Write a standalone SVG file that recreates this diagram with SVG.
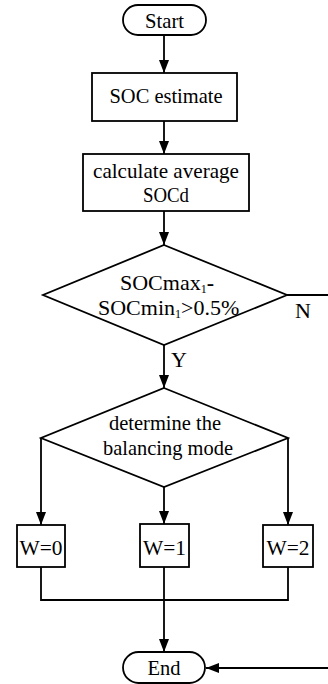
<svg xmlns="http://www.w3.org/2000/svg" width="328" height="684" viewBox="0 0 328 684">
<style>
.s{fill:#fff;stroke:#000;stroke-width:1.8}
.c{fill:none;stroke:#000;stroke-width:1.8}
text{font-family:"Liberation Serif","Times New Roman",serif;font-size:22px;fill:#000}
.m{text-anchor:middle}
.sub{font-size:12px}
</style>
<defs>
<marker id="ah" markerUnits="userSpaceOnUse" markerWidth="13" markerHeight="10" refX="13" refY="5" orient="auto">
<path d="M0,0 L13,5 L0,10 Z" fill="#000"/>
</marker>
</defs>
<g id="connectors">
<line class="c" x1="164" y1="35" x2="164" y2="73" marker-end="url(#ah)"/>
<line class="c" x1="164" y1="121" x2="164" y2="154" marker-end="url(#ah)"/>
<line class="c" x1="164" y1="211" x2="164" y2="245" marker-end="url(#ah)"/>
<line class="c" x1="164" y1="345" x2="164" y2="388" marker-end="url(#ah)"/>
<polyline class="c" points="287,295 328,295"/>
<line class="c" x1="41" y1="438" x2="41" y2="525" marker-end="url(#ah)"/>
<line class="c" x1="164" y1="487" x2="164" y2="524" marker-end="url(#ah)"/>
<line class="c" x1="288" y1="438" x2="288" y2="525" marker-end="url(#ah)"/>
<polyline class="c" points="41,567 41,600 288,600 288,567"/>
<line class="c" x1="164" y1="567" x2="164" y2="652" marker-end="url(#ah)"/>
<line class="c" x1="328" y1="668" x2="206" y2="668" marker-end="url(#ah)"/>
<text x="295" y="318">N</text>
<text x="171" y="367">Y</text>
</g>
<g id="start">
<rect class="s" x="123" y="5" width="83" height="30" rx="15"/>
<text class="m" x="164.5" y="28" textLength="39" lengthAdjust="spacingAndGlyphs">Start</text>
</g>
<g id="soc-estimate">
<rect class="s" x="92" y="73" width="145" height="48"/>
<text class="m" x="166" y="103" textLength="113" lengthAdjust="spacingAndGlyphs">SOC estimate</text>
</g>
<g id="calc-average">
<rect class="s" x="83" y="154" width="166" height="57"/>
<text class="m" x="166" y="178" textLength="146" lengthAdjust="spacingAndGlyphs">calculate  average</text>
<text class="m" x="166" y="202" textLength="46" lengthAdjust="spacingAndGlyphs">SOCd</text>
</g>
<g id="decision-diff">
<polygon class="s" points="164,245 287,295 164,345 43,295"/>
<text x="120" y="290">SOCmax<tspan class="sub" dy="3">1</tspan><tspan dy="-3" font-weight="bold">-</tspan></text>
<text x="98" y="315">SOCmin<tspan class="sub" dy="3">1</tspan><tspan dy="-3">&gt;0.5%</tspan></text>
</g>
<g id="decision-mode">
<polygon class="s" points="164,388 288,438 164,487 41,438"/>
<text class="m" x="165" y="430" textLength="112" lengthAdjust="spacingAndGlyphs">determine the</text>
<text class="m" x="168" y="455" textLength="130" lengthAdjust="spacingAndGlyphs">balancing mode</text>
</g>
<g id="w0">
<rect class="s" x="17" y="525" width="48" height="42"/>
<text class="m" x="41" y="555" textLength="43" lengthAdjust="spacingAndGlyphs">W=0</text>
</g>
<g id="w1">
<rect class="s" x="140" y="524" width="49" height="43"/>
<text class="m" x="164.5" y="555" textLength="43" lengthAdjust="spacingAndGlyphs">W=1</text>
</g>
<g id="w2">
<rect class="s" x="263" y="525" width="50" height="42"/>
<text class="m" x="288" y="555" textLength="43" lengthAdjust="spacingAndGlyphs">W=2</text>
</g>
<g id="end">
<rect class="s" x="123" y="652" width="82" height="31" rx="15.5"/>
<text class="m" x="164" y="675" textLength="33" lengthAdjust="spacingAndGlyphs">End</text>
</g>
</svg>
